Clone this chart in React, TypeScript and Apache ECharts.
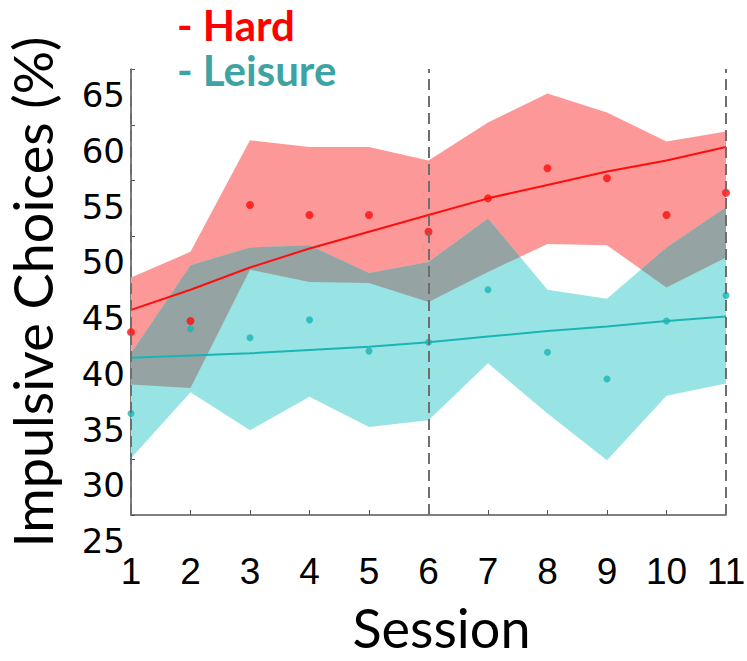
import React, { useEffect, useRef } from "react";
import * as echarts from "echarts";

const sessions = [1, 2, 3, 4, 5, 6, 7, 8, 9, 10, 11];
const hardMean = [41.4, 42.4, 52.8, 51.9, 51.9, 50.4, 53.4, 56.1, 55.2, 51.9, 53.9];
const leisureMean = [34.1, 41.7, 40.9, 42.5, 39.7, 40.5, 45.2, 39.6, 37.2, 42.4, 44.7];
const hardUpper = [46.3, 48.6, 58.6, 58.0, 58.0, 56.8, 60.2, 62.8, 61.1, 58.5, 59.4];
const hardLower = [36.7, 36.4, 47.0, 45.9, 45.8, 44.1, 46.8, 49.3, 49.2, 45.4, 48.1];
const leisureUpper = [39.5, 47.4, 49.0, 49.2, 46.7, 47.7, 51.6, 45.2, 44.4, 49.0, 52.6];
const leisureLower = [30.1, 36.0, 32.6, 35.6, 32.9, 33.5, 38.6, 34.1, 29.9, 35.7, 36.8];
const hardFit = [43.4, 45.2, 47.2, 48.9, 50.4, 51.9, 53.4, 54.6, 55.8, 56.8, 58.0];
const leisureFit = [39.1, 39.3, 39.5, 39.8, 40.1, 40.5, 41.0, 41.5, 41.9, 42.4, 42.8];
const dividerSessions = [1, 6, 11];
const legendNames = ["Hard", "Leisure"];

const RED = "#ff0d0d";
const PINK = "#fd9898";
const TEAL_BAND = "#98e4e4";
const OVERLAP = "#96a3a3";
const TEAL = "#1bb4b4";
const TEAL_TEXT = "#3ea3a3";

type P = { x: number; lo: number; hi: number };

function overlapRuns(): P[][] {
  const pts: P[] = [];
  const n = sessions.length;
  for (let i = 0; i < n - 1; i++) {
    const lines = [hardUpper, leisureUpper, hardLower, leisureLower].map((a) => [a[i], a[i + 1]]);
    const ts: number[] = [0];
    for (let a = 0; a < lines.length; a++) {
      for (let b = a + 1; b < lines.length; b++) {
        const d0 = lines[a][0] - lines[b][0];
        const d1 = lines[a][1] - lines[b][1];
        if (d0 * d1 < 0) ts.push(d0 / (d0 - d1));
      }
    }
    if (i === n - 2) ts.push(1);
    ts.sort((p, q) => p - q);
    for (const t of ts) {
      const v = lines.map((l) => l[0] + t * (l[1] - l[0]));
      pts.push({
        x: sessions[i] + t * (sessions[i + 1] - sessions[i]),
        hi: Math.min(v[0], v[1]),
        lo: Math.max(v[2], v[3]),
      });
    }
  }
  const runs: P[][] = [];
  let cur: P[] = [];
  for (const p of pts) {
    if (p.hi - p.lo >= -1e-6) cur.push(p);
    else {
      if (cur.length >= 2) runs.push(cur);
      cur = [];
    }
  }
  if (cur.length >= 2) runs.push(cur);
  return runs;
}

export default function App() {
  const ref = useRef<HTMLDivElement>(null);
  useEffect(() => {
    if (!ref.current) return;
    const chart = echarts.init(ref.current, null, { renderer: "svg" });
    const runs = overlapRuns();
    const option: any = {
      animation: false,
      backgroundColor: "#ffffff",
      title: {
        left: 177,
        top: 2,
        padding: 0,
        text: `{h|- ${legendNames[0]}}\n{l|- ${legendNames[1]}}`,
        textStyle: {
          lineHeight: 45,
          rich: {
            h: { fontFamily: "Lato", fontWeight: "bold", fontSize: 42, lineHeight: 45, color: "#ff0000" },
            l: { fontFamily: "Lato", fontWeight: "bold", fontSize: 42, lineHeight: 45, color: TEAL_TEXT },
          },
        },
      },
      grid: { left: 131, right: 21, top: 69, bottom: 146, containLabel: false, outerBoundsMode: "none" },
      xAxis: {
        type: "value",
        min: 1,
        max: 11,
        interval: 1,
        name: "Session",
        nameLocation: "middle",
        nameGap: 85,
        nameTextStyle: { fontFamily: "Lato", fontSize: 54, color: "#000", padding: [0, 0, 0, 26] },
        axisLine: { lineStyle: { color: "#555", width: 1.5 } },
        axisTick: { inside: true, length: 5, lineStyle: { color: "#555" } },
        axisLabel: { fontFamily: "Liberation Sans", fontSize: 37, color: "#000", margin: 38 },
        splitLine: { show: false },
      },
      yAxis: {
        type: "value",
        min: 25,
        max: 65,
        interval: 5,
        name: "Impulsive Choices (%)",
        nameLocation: "middle",
        nameGap: 72,
        nameTextStyle: { fontFamily: "Lato", fontSize: 54, color: "#000" },
        axisLine: { lineStyle: { color: "#555", width: 1.5 } },
        axisTick: { inside: true, length: 4, lineStyle: { color: "#555" } },
        axisLabel: {
          fontFamily: "DejaVu Sans",
          fontSize: 34,
          color: "#000",
          margin: 6,
          verticalAlign: "top",
          padding: [9, 0, 0, 0],
          showMinLabel: true,
          showMaxLabel: true,
        },
        splitLine: { show: false },
      },
      series: [
        {
          type: "custom",
          name: "bands",
          z: 1,
          silent: true,
          data: sessions.map((s, i) => [s, hardUpper[i]]),
          renderItem: (params: any, api: any) => {
            if (params.dataIndex !== 0) return null;
            const c = (x: number, y: number) => api.coord([x, y]);
            const band = (up: number[], lo: number[]) => [
              ...sessions.map((s, i) => c(s, up[i])),
              ...sessions.map((s, i) => c(s, lo[i])).reverse(),
            ];
            const children: any[] = [
              { type: "polygon", shape: { points: band(hardUpper, hardLower) }, style: { fill: PINK } },
              { type: "polygon", shape: { points: band(leisureUpper, leisureLower) }, style: { fill: TEAL_BAND } },
            ];
            for (const run of runs) {
              const pts = [
                ...run.map((p) => c(p.x, p.lo)),
                ...run.map((p) => c(p.x, p.hi)).reverse(),
              ];
              children.push({ type: "polygon", shape: { points: pts }, style: { fill: OVERLAP } });
            }
            return { type: "group", children };
          },
        },
        {
          type: "line",
          name: "Hard fit",
          z: 3,
          data: sessions.map((s, i) => [s, hardFit[i]]),
          showSymbol: false,
          symbol: "none",
          lineStyle: { color: RED, width: 2 },
          markLine: {
            silent: true,
            symbol: "none",
            label: { show: false },
            lineStyle: { color: "#6e6e6e", width: 2, type: [11, 6] },
            data: dividerSessions.map((s) => ({ xAxis: s })),
          },
        },
        {
          type: "line",
          name: "Leisure fit",
          z: 3,
          data: sessions.map((s, i) => [s, leisureFit[i]]),
          showSymbol: false,
          symbol: "none",
          lineStyle: { color: TEAL, width: 2 },
        },
        {
          type: "scatter",
          name: legendNames[0],
          z: 4,
          symbolSize: 8,
          itemStyle: { color: RED },
          data: sessions.map((s, i) => [s, hardMean[i]]),
        },
        {
          type: "scatter",
          name: legendNames[1],
          z: 4,
          symbolSize: 7,
          itemStyle: { color: TEAL },
          data: sessions.map((s, i) => [s, leisureMean[i]]),
        },
      ],
    };
    chart.setOption(option);
    return () => chart.dispose();
  }, []);
  return (
    <div
      ref={ref}
      style={{ position: "fixed", left: 0, top: 0, width: 747, height: 661, background: "#fff" }}
    />
  );
}
